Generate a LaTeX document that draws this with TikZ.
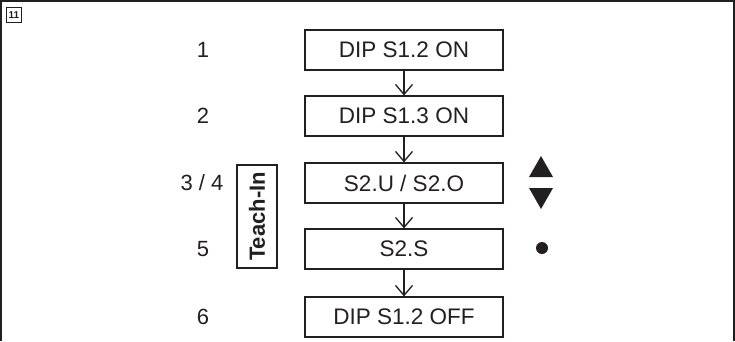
\documentclass[tikz,border=0pt]{standalone}
\usepackage{fontspec}
\setmainfont{Liberation Sans}
\usetikzlibrary{arrows.meta}
\definecolor{ink}{HTML}{231F20}
\begin{document}
\begin{tikzpicture}[x=1pt, y=-1pt, color=ink,
  stepbox/.style={draw, line width=1.2pt, minimum width=198pt, minimum height=40pt,
    inner sep=0pt, font=\fontsize{22.5}{24}\selectfont},
  num/.style={inner sep=0pt, font=\fontsize{22}{24}\selectfont},
  flow/.style={line width=1.3pt, -{Straight Barb[length=10pt,width=17pt,line width=1.3pt]}}]
\useasboundingbox (0,0) rectangle (735,341);
% open frame: left, top and right sides
\draw[line width=1.5pt] (1,341) -- (1,1) -- (734,1) -- (734,341);
% figure number tag
\node[draw, line width=0.9pt, minimum size=15pt, inner sep=0pt,
  font=\fontsize{10}{10}\selectfont\bfseries] (tag) at (14,15) {11};

% steps
\node[stepbox] (s1) at (404,50)  {DIP S1.2 ON};
\node[stepbox] (s2) at (404,116) {DIP S1.3 ON};
\node[stepbox] (s3) at (404,183) {S2.U / S2.O};
\node[stepbox] (s4) at (404,249) {S2.S};
\node[stepbox] (s5) at (404,317) {DIP S1.2 OFF};

\draw[flow] (s1) -- (s2);
\draw[flow] (s2) -- (s3);
\draw[flow] (s3) -- (s4);
\draw[flow] (s4) -- (s5);

% step numbers
\node[num] (n1) at (203,50)  {1};
\node[num] (n2) at (203,116) {2};
\node[num] (n3) at (202,183) {3 / 4};
\node[num] (n5) at (203,249) {5};
\node[num] (n6) at (203,317) {6};

% teach-in bracket
\node[draw, line width=1.2pt, rotate=90, minimum width=103pt, minimum height=40pt,
  inner sep=0pt, font=\fontsize{22}{24}\selectfont\bfseries] (teach) at (257,216.5) {Teach-In};

% key symbols
\fill (529,177) -- (541,156) -- (553,177) -- cycle;
\fill (529,188) -- (541,209) -- (553,188) -- cycle;
\fill (542,248) circle (6pt);
\end{tikzpicture}
\end{document}
